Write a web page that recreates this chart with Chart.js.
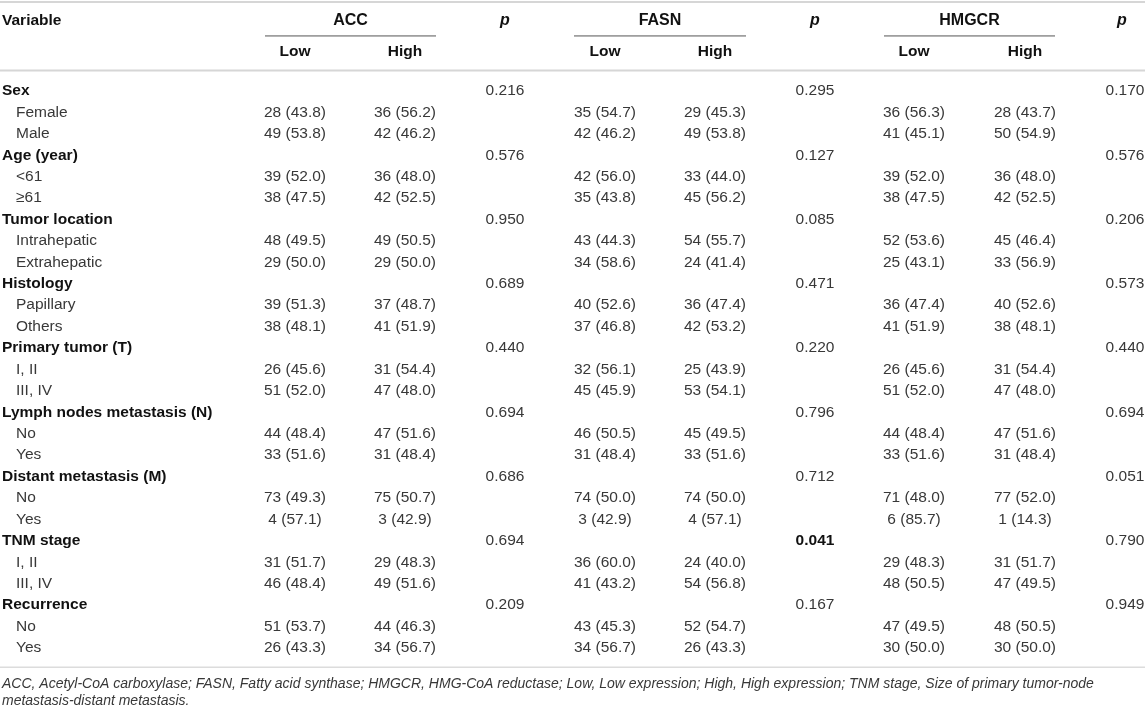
<!DOCTYPE html>
<html>
<head>
<meta charset="utf-8">
<script src="https://cdn.jsdelivr.net/npm/chart.js@4.4.1/dist/chart.umd.min.js"></script>
<style>
  html, body { margin: 0; padding: 0; background: #fff; }
  #wrap { width: 1145px; height: 709px; }
</style>
</head>
<body>
<div id="wrap"><canvas id="tbl" width="1145" height="709"></canvas></div>
<script>
// ====== Table data ======
const groups = ["Sex", "Age (year)", "Tumor location", "Histology", "Primary tumor (T)",
  "Lymph nodes metastasis (N)", "Distant metastasis (M)", "TNM stage", "Recurrence"];
const levels = ["Female", "Male", "<61", "≥61", "Intrahepatic", "Extrahepatic", "Papillary", "Others",
  "I, II", "III, IV", "No", "Yes", "No", "Yes", "I, II", "III, IV", "No", "Yes"];

const markers = ["ACC", "FASN", "HMGCR"];
const subCols = ["Low", "High"];

const accLowN    = [28, 49, 39, 38, 48, 29, 39, 38, 26, 51, 44, 33, 73, 4, 31, 46, 51, 26];
const accLowPct  = [43.8, 53.8, 52.0, 47.5, 49.5, 50.0, 51.3, 48.1, 45.6, 52.0, 48.4, 51.6, 49.3, 57.1, 51.7, 48.4, 53.7, 43.3];
const accHighN   = [36, 42, 36, 42, 49, 29, 37, 41, 31, 47, 47, 31, 75, 3, 29, 49, 44, 34];
const accHighPct = [56.2, 46.2, 48.0, 52.5, 50.5, 50.0, 48.7, 51.9, 54.4, 48.0, 51.6, 48.4, 50.7, 42.9, 48.3, 51.6, 46.3, 56.7];
const accP       = [0.216, 0.576, 0.950, 0.689, 0.440, 0.694, 0.686, 0.694, 0.209];

const fasnLowN    = [35, 42, 42, 35, 43, 34, 40, 37, 32, 45, 46, 31, 74, 3, 36, 41, 43, 34];
const fasnLowPct  = [54.7, 46.2, 56.0, 43.8, 44.3, 58.6, 52.6, 46.8, 56.1, 45.9, 50.5, 48.4, 50.0, 42.9, 60.0, 43.2, 45.3, 56.7];
const fasnHighN   = [29, 49, 33, 45, 54, 24, 36, 42, 25, 53, 45, 33, 74, 4, 24, 54, 52, 26];
const fasnHighPct = [45.3, 53.8, 44.0, 56.2, 55.7, 41.4, 47.4, 53.2, 43.9, 54.1, 49.5, 51.6, 50.0, 57.1, 40.0, 56.8, 54.7, 43.3];
const fasnP       = [0.295, 0.127, 0.085, 0.471, 0.220, 0.796, 0.712, 0.041, 0.167];

const hmgcrLowN    = [36, 41, 39, 38, 52, 25, 36, 41, 26, 51, 44, 33, 71, 6, 29, 48, 47, 30];
const hmgcrLowPct  = [56.3, 45.1, 52.0, 47.5, 53.6, 43.1, 47.4, 51.9, 45.6, 52.0, 48.4, 51.6, 48.0, 85.7, 48.3, 50.5, 49.5, 50.0];
const hmgcrHighN   = [28, 50, 36, 42, 45, 33, 40, 38, 31, 47, 47, 31, 77, 1, 31, 47, 48, 30];
const hmgcrHighPct = [43.7, 54.9, 48.0, 52.5, 46.4, 56.9, 52.6, 48.1, 54.4, 48.0, 51.6, 48.4, 52.0, 14.3, 51.7, 49.5, 50.5, 50.0];
const hmgcrP       = [0.170, 0.576, 0.206, 0.573, 0.440, 0.694, 0.051, 0.790, 0.949];

const footnote = [
  "ACC, Acetyl-CoA carboxylase; FASN, Fatty acid synthase; HMGCR, HMG-CoA reductase; Low, Low expression; High, High expression; TNM stage, Size of primary tumor-node",
  "metastasis-distant metastasis."
];

// ====== Layout (x in px units, y in row units) ======
const colX = { label: 2, indent: 16, lowA: 295, highA: 405, pA: 505, lowB: 605, highB: 715, pB: 815, lowC: 914, highC: 1025, pC: 1125 };
const groupSpan = [[265, 436], [574, 746], [884, 1055]];
const rowStep = 21.42;
const yMin = -91 / rowStep;
const yMax = yMin + 709 / rowStep;
const rowHead = -3.27, rowSub = -1.82, rowUnder = -2.57, rowHeadLine = -0.96, rowTop = -4.15;
const rowBottom = 26.9, rowFoot1 = 27.7, rowFoot2 = 28.5;

const FONT = "'Liberation Sans', Arial, Helvetica, sans-serif";
const TEXT = "#383838";

function fmt(n, pct) { return n + " (" + pct.toFixed(1) + ")"; }
function levelRow(i) { return 3 * Math.floor(i / 2) + 1 + (i % 2); }

function countColumn(x, ns, pcts) {
  return {
    data: ns.map((n, i) => ({ x: x, y: levelRow(i) })),
    texts: ns.map((n, i) => fmt(n, pcts[i])),
    align: "center"
  };
}
function pColumn(x, ps) {
  return {
    data: ps.map((p, g) => ({ x: x, y: 3 * g })),
    texts: ps.map(p => p.toFixed(3)),
    bold: ps.map(p => p < 0.05),
    align: "center"
  };
}

const columns = [
  { data: groups.map((g, i) => ({ x: colX.label, y: 3 * i })), texts: groups, bold: groups.map(() => true), align: "left" },
  { data: levels.map((l, i) => ({ x: colX.indent, y: levelRow(i) })), texts: levels, align: "left" },
  countColumn(colX.lowA, accLowN, accLowPct),
  countColumn(colX.highA, accHighN, accHighPct),
  pColumn(colX.pA, accP),
  countColumn(colX.lowB, fasnLowN, fasnLowPct),
  countColumn(colX.highB, fasnHighN, fasnHighPct),
  pColumn(colX.pB, fasnP),
  countColumn(colX.lowC, hmgcrLowN, hmgcrLowPct),
  countColumn(colX.highC, hmgcrHighN, hmgcrHighPct),
  pColumn(colX.pC, hmgcrP)
];

// ====== Plugin: draws the table text and rules ======
const tablePlugin = {
  id: "tableText",
  afterDatasetsDraw(chart) {
    const ctx = chart.ctx;
    const xs = chart.scales.x, ys = chart.scales.y;
    const X = v => xs.getPixelForValue(v), Y = v => ys.getPixelForValue(v);
    ctx.save();
    ctx.textBaseline = "middle";

    // rules
    const hline = (row, x0, x1, color, w) => {
      ctx.strokeStyle = color; ctx.lineWidth = w;
      ctx.beginPath(); ctx.moveTo(X(x0), Y(row)); ctx.lineTo(X(x1), Y(row)); ctx.stroke();
    };
    hline(rowTop, 0, 1145, "#d6d6d6", 2);
    hline(rowHeadLine, 0, 1145, "#d6d6d6", 2);
    hline(rowBottom, 0, 1145, "#dcdcdc", 1.5);
    groupSpan.forEach(s => hline(rowUnder, s[0], s[1], "#555", 1));

    // header
    ctx.fillStyle = "#111";
    ctx.font = "bold 15.5px " + FONT;
    ctx.textAlign = "left";
    ctx.fillText("Variable", X(colX.label), Y(rowHead));
    ctx.textAlign = "center";
    const centers = [[colX.lowA, colX.highA], [colX.lowB, colX.highB], [colX.lowC, colX.highC]];
    markers.forEach((m, k) => {
      const mid = (groupSpan[k][0] + groupSpan[k][1]) / 2;
      ctx.font = "bold 16px " + FONT;
      ctx.fillText(m, X(mid), Y(rowHead));
      ctx.font = "bold 15.5px " + FONT;
      subCols.forEach((s, j) => ctx.fillText(s, X(centers[k][j]), Y(rowSub)));
    });
    ctx.font = "italic bold 16px " + FONT;
    [colX.pA, colX.pB, colX.pC - 3].forEach(x => ctx.fillText("p", X(x), Y(rowHead)));

    // body cells, positioned from each point element
    chart.data.datasets.forEach((ds, di) => {
      const meta = chart.getDatasetMeta(di);
      ctx.textAlign = ds.align;
      meta.data.forEach((pt, i) => {
        const bold = ds.bold && ds.bold[i];
        ctx.font = (bold ? "bold " : "") + "15.5px " + FONT;
        ctx.fillStyle = bold ? "#111" : TEXT;
        ctx.fillText(ds.texts[i], pt.x, pt.y);
      });
    });

    // footnote
    ctx.textAlign = "left";
    ctx.fillStyle = TEXT;
    ctx.font = "italic 14px " + FONT;
    ctx.fillText(footnote[0], X(colX.label), Y(rowFoot1));
    ctx.fillText(footnote[1], X(colX.label), Y(rowFoot2));
    ctx.restore();
  }
};

new Chart(document.getElementById("tbl"), {
  type: "scatter",
  data: {
    datasets: columns.map(c => ({
      data: c.data, texts: c.texts, bold: c.bold, align: c.align,
      pointRadius: 0, pointHoverRadius: 0
    }))
  },
  options: {
    responsive: false,
    animation: false,
    layout: { padding: 0 },
    plugins: { legend: { display: false }, tooltip: { enabled: false } },
    scales: {
      x: { type: "linear", min: 0, max: 1145, display: false },
      y: { type: "linear", min: yMin, max: yMax, reverse: true, display: false }
    }
  },
  plugins: [tablePlugin]
});
</script>
</body>
</html>
